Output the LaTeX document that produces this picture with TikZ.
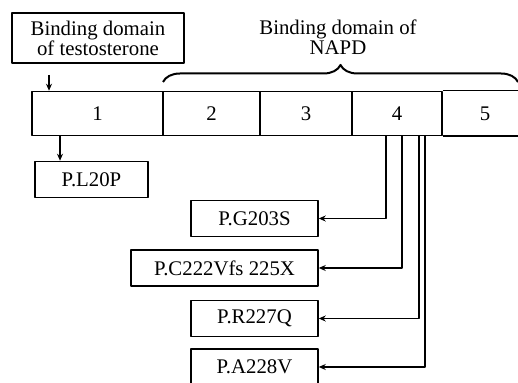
\documentclass[tikz,border=0pt]{standalone}
\usepackage{fontspec}
\setmainfont{Liberation Serif}
\usetikzlibrary{arrows.meta,decorations.pathreplacing}
\begin{document}
\begin{tikzpicture}[x=0.5pt,y=-0.5pt,font=\fontsize{10.4}{12}\selectfont,line join=round,
	>={Stealth[length=3.5pt,width=3pt]},
	box/.style={draw,line width=0.75pt,inner sep=0pt,minimum height=18pt},
	cell/.style={draw,line width=0.75pt,inner sep=0pt,minimum height=22pt},
	link/.style={line width=0.75pt,->}]
	\useasboundingbox (0,0) rectangle (518,383);
	% labels on top
	\node[box,minimum width=86pt,minimum height=25pt,align=center] (testo) at (98,38) {Binding domain\\[-2pt]of testosterone};
	\node[align=center] (napd) at (338,37) {Binding domain of\\[-2pt]NAPD};
	% the bar
	\node[cell,minimum width=65.5pt] (c1) at (97.5,113.5) {1};
	\node[cell,minimum width=48.5pt] (c2) at (211.5,113.5) {2};
	\node[cell,minimum width=46pt] (c3) at (306,113.5) {3};
	\node[cell,minimum width=45pt] (c4) at (397,113.5) {4};
	\node (c5) at (485,113.5) {5};
	\draw[line width=0.75pt] (c4.north east) -- (518,0 |- c4.north)
	(c4.south east) -- (518,0 |- c4.south);
	\draw[decorate,decoration={brace,amplitude=8.5pt},line width=1pt] (163,82) -- (518,82);
	% mutations
	\node[box,minimum width=56.5pt] (l20p) at (91.5,179.5) {P.L20P};
	\node[box,minimum width=63.5pt] (g203s) at (254.5,218.5) {P.G203S};
	\node[box,minimum width=93.5pt] (c222) at (224.5,268) {P.C222Vfs 225X};
	\node[box,minimum width=63.5pt] (r227q) at (254.5,318.5) {P.R227Q};
	\node[box,minimum width=63.5pt] (a228v) at (254.5,367) {P.A228V};
	\coordinate (t0) at (49,75);
	\draw[link] (t0) -- (t0 |- c1.north);
	\draw[link] (60,0 |- c1.south) -- (60,0 |- l20p.north);
	\foreach \x/\m in {386/g203s,402/c222,419/r227q,425/a228v}
	\draw[link] (\x,0 |- c4.south) |- (\m.east);
\end{tikzpicture}
\end{document}
